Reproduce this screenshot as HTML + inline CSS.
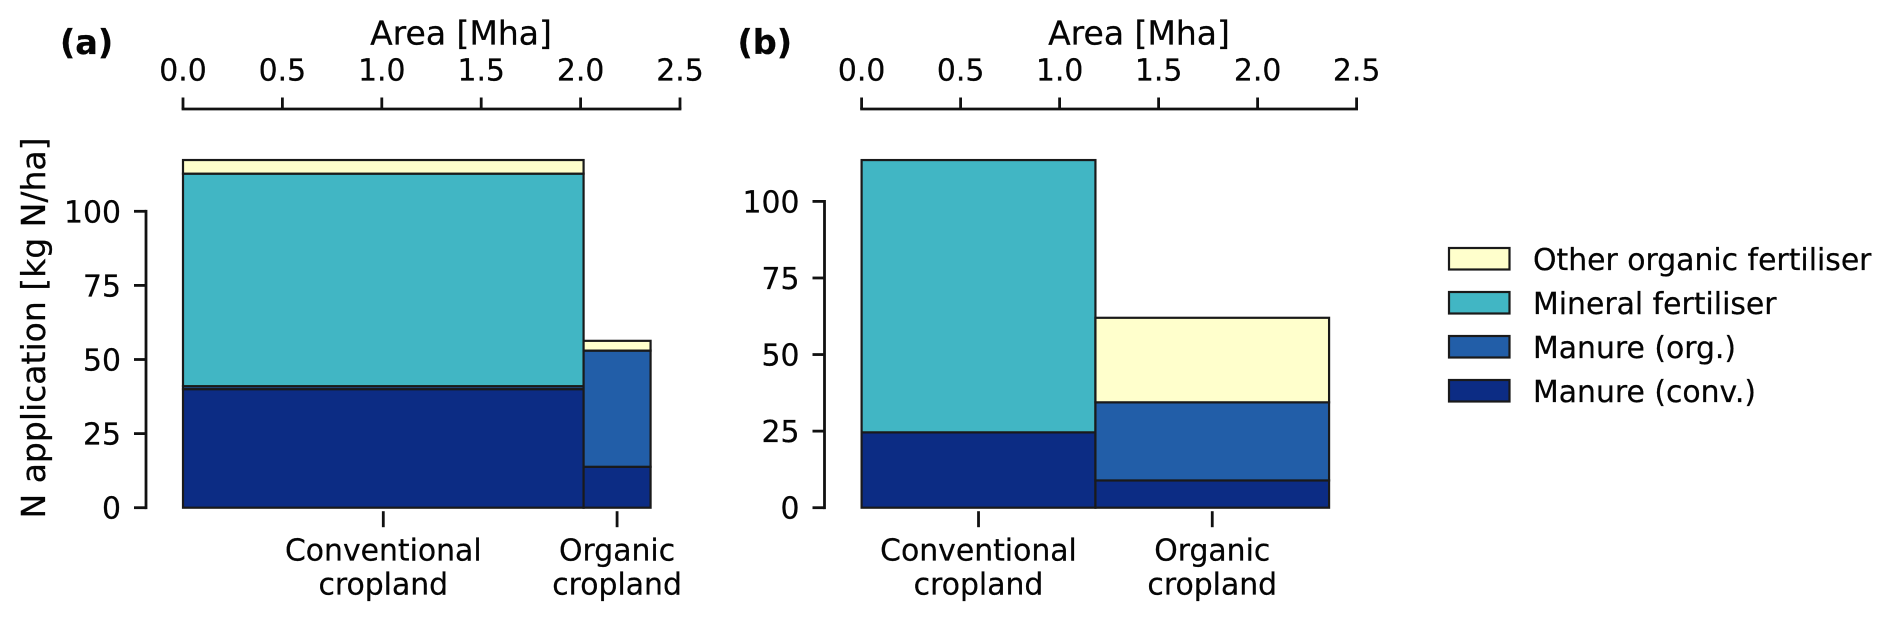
<!DOCTYPE html>
<html lang="en">
<head>
<meta charset="utf-8">
<title>N application by cropland type</title>
<style>
html,body{margin:0;padding:0;background:#fff;}
svg{display:block;}
text{font-family:"DejaVu Sans","Liberation Sans",sans-serif;fill:#050505;stroke:#050505;stroke-width:0.25px;}
</style>
</head>
<body>
<svg id="chart" xmlns="http://www.w3.org/2000/svg" width="1892" height="621" viewBox="0 0 1892 621">
  <rect x="0" y="0" width="1892" height="621" fill="#ffffff"/>
  <text x="60" y="54" font-size="33.5" font-weight="700">(a)</text>
  <text x="737.5" y="54" font-size="33.5" font-weight="700">(b)</text>
  <text x="461" y="44.5" font-size="33" text-anchor="middle">Area [Mha]</text>
  <text x="1139" y="44.5" font-size="33" text-anchor="middle">Area [Mha]</text>
  <text transform="translate(45,328) rotate(-90)" font-size="33" text-anchor="middle">N application [kg N/ha]</text>
  <g id="panel-a"></g>
  <g id="panel-b"></g>
  <g>
    <rect x="1449" y="248" width="60.5" height="21.5" fill="#ffffcc" stroke="#1a1a1a" stroke-width="2.2"/>
    <text x="1533" y="270" font-size="29.85">Other organic fertiliser</text>
    <rect x="1449" y="292" width="60.5" height="21.5" fill="#41b6c4" stroke="#1a1a1a" stroke-width="2.2"/>
    <text x="1533" y="314" font-size="29.85">Mineral fertiliser</text>
    <rect x="1449" y="336" width="60.5" height="21.5" fill="#225ea8" stroke="#1a1a1a" stroke-width="2.2"/>
    <text x="1533" y="358" font-size="29.85">Manure (org.)</text>
    <rect x="1449" y="380" width="60.5" height="21.5" fill="#0c2c84" stroke="#1a1a1a" stroke-width="2.2"/>
    <text x="1533" y="402" font-size="29.85">Manure (conv.)</text>
  </g>
</svg>
<script>
// Chart data
const croplandLine1 = ['Conventional', 'Organic'];
const croplandLine2 = ['cropland', 'cropland'];
const seriesNames = ['manure-conv', 'manure-org', 'mineral', 'other-organic'];
const seriesColors = ['#0c2c84', '#225ea8', '#41b6c4', '#ffffcc'];
const xTicks = [0, 0.5, 1, 1.5, 2, 2.5];
const xTickLabels = ['0.0', '0.5', '1.0', '1.5', '2.0', '2.5'];
const yTicks = [0, 25, 50, 75, 100];
const yTickLabels = ['0', '25', '50', '75', '100'];

// Panel (a): area [Mha] per cropland type, N [kg N/ha] per series
const areaA = [2.015, 0.337];
const manureConvA = [40, 13.8];
const manureOrgA = [1, 39.2];
const mineralA = [71.7, 0];
const otherA = [4.6, 3.3];

// Panel (b)
const areaB = [1.181, 1.18];
const manureConvB = [24.6, 8.9];
const manureOrgB = [0, 25.5];
const mineralB = [88.9, 0];
const otherB = [0, 27.6];

const NS = 'http://www.w3.org/2000/svg';

function make(parent, tag, attrs, name, interactable) {
  const el = document.createElementNS(NS, tag);
  for (const k in attrs) el.setAttribute(k, attrs[k]);
  
  
  parent.appendChild(el);
  return el;
}

function drawPanel(cfg) {
  const g = document.getElementById(cfg.id);
  const xScale = v => cfg.x0 + v * cfg.pxPerMha;
  const yScale = v => cfg.y0 - v * cfg.pxPerKg;

  // Stacked mosaic bars
  let cursor = 0;
  cfg.areas.forEach((area, c) => {
    let base = 0;
    cfg.series.forEach((values, s) => {
      const v = values[c];
      if (v > 0) {
        make(g, 'rect', {
          x: xScale(cursor),
          y: yScale(base + v),
          width: xScale(cursor + area) - xScale(cursor),
          height: yScale(base) - yScale(base + v),
          fill: seriesColors[s],
          stroke: '#1a1a1a',
          'stroke-width': 2.2
        }, 'bar-' + croplandLine1[c].toLowerCase() + '-' + seriesNames[s], 'true');
      }
      base += v;
    });
    const mid = xScale(cursor + area / 2);
    make(g, 'line', {x1: mid, x2: mid, y1: cfg.y0 + 3.5, y2: cfg.y0 + 19.5, stroke: '#111', 'stroke-width': 2.8}, 'category-tick', 'false');
    const t1 = make(g, 'text', {x: mid, y: 560.7, 'font-size': 29.85, 'text-anchor': 'middle'}, 'category-label', 'false');
    t1.textContent = croplandLine1[c];
    const t2 = make(g, 'text', {x: mid, y: 594.3, 'font-size': 29.85, 'text-anchor': 'middle'}, 'category-label', 'false');
    t2.textContent = croplandLine2[c];
    cursor += area;
  });

  // Top x axis
  const axisY = 109;
  make(g, 'line', {x1: xScale(xTicks[0]) - 1.4, x2: xScale(xTicks[xTicks.length - 1]) + 1.4, y1: axisY, y2: axisY, stroke: '#111', 'stroke-width': 2.8}, 'x-axis-line', 'false');
  xTicks.forEach((v, i) => {
    make(g, 'line', {x1: xScale(v), x2: xScale(v), y1: axisY, y2: axisY - 11.5, stroke: '#111', 'stroke-width': 2.8}, 'x-tick', 'false');
    const t = make(g, 'text', {x: xScale(v), y: 80.5, 'font-size': 29.85, 'text-anchor': 'middle'}, 'x-tick-label', 'false');
    t.textContent = xTickLabels[i];
  });

  // Left y axis
  make(g, 'line', {x1: cfg.axisX, x2: cfg.axisX, y1: yScale(yTicks[yTicks.length - 1]) - 1.4, y2: yScale(yTicks[0]) + 1.4, stroke: '#111', 'stroke-width': 2.8}, 'y-axis-line', 'false');
  yTicks.forEach((v, i) => {
    make(g, 'line', {x1: cfg.axisX, x2: cfg.axisX - 12, y1: yScale(v), y2: yScale(v), stroke: '#111', 'stroke-width': 2.8}, 'y-tick', 'false');
    const t = make(g, 'text', {x: cfg.axisX - 25, y: yScale(v) + 11, 'font-size': 29.85, 'text-anchor': 'end'}, 'y-tick-label', 'false');
    t.textContent = yTickLabels[i];
  });
}

drawPanel({
  id: 'panel-a', x0: 183, pxPerMha: 198.8, y0: 507.7, pxPerKg: 2.964, axisX: 146,
  areas: areaA, series: [manureConvA, manureOrgA, mineralA, otherA]
});
drawPanel({
  id: 'panel-b', x0: 861.6, pxPerMha: 198, y0: 507.7, pxPerKg: 3.063, axisX: 824.5,
  areas: areaB, series: [manureConvB, manureOrgB, mineralB, otherB]
});
</script>
</body>
</html>
